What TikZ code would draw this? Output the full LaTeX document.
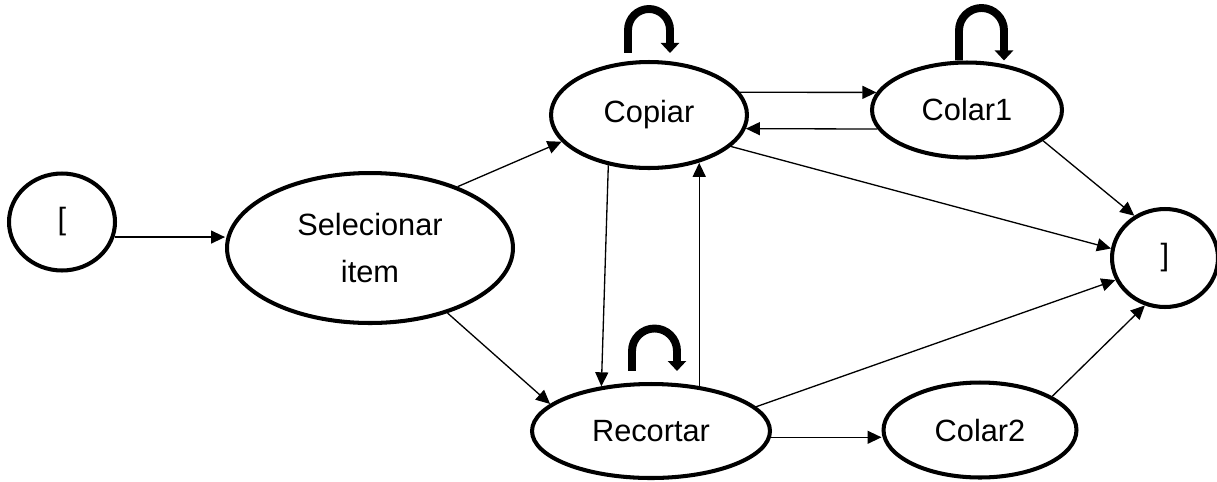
\documentclass[tikz,border=0pt]{standalone}
\usepackage{fontspec}
\setmainfont{Liberation Sans}
\usetikzlibrary{arrows.meta,shapes.geometric}
\begin{document}
\begin{tikzpicture}[x=0.02cm,y=0.02cm,
  state/.style={ellipse,draw,line width=2.3pt,inner sep=0pt,align=center,
    font=\fontsize{17.5}{26.7}\selectfont},
  edge/.style={line width=0.75pt,-{Triangle[length=0.28cm,width=0.26cm]}},
  selfloop/.style={line width=4.5pt,-{Triangle[length=0.2cm,width=0.36cm]}}]
\useasboundingbox (0,0) rectangle (1217,-481);

% states
\node[state,minimum width=2.12cm,minimum height=1.94cm] (open)  at (62,-222)  {[};
\node[state,minimum width=5.72cm,minimum height=3.0cm]  (sel)   at (370,-248) {Selecionar\\item};
\node[state,minimum width=3.92cm,minimum height=2.12cm] (cop)   at (649,-115) {Copiar};
\node[state,minimum width=3.8cm,minimum height=1.9cm]   (col1)  at (967,-110) {Colar1};
\node[state,minimum width=2.12cm,minimum height=1.96cm] (close) at (1165,-258) {]};
\node[state,minimum width=4.76cm,minimum height=1.88cm] (rec)   at (651,-431) {Recortar};
\node[state,minimum width=3.86cm,minimum height=1.9cm]  (col2)  at (980,-430) {Colar2};

% transitions
\draw[edge] (open.-16) -- (open.-16 -| sel.west);
\draw[edge] (sel.35) -- (cop.197);
\draw[edge] (sel.-40) -- (rec.165);
\draw[edge] (cop.231) -- (rec.138);
\draw[edge] (rec.43) -- (rec.43 |- cop.-44);
\draw[edge] (cop.14) -- (col1.169);
\draw[edge] (col1.192) -- (cop.-8);
\draw[edge] (cop.-21) -- (close.170);
\draw[edge] (col1.-22) -- (close.126);
\draw[edge] (rec.13) -- (close.204);
\draw[edge] (rec.-3) -- (rec.-3 -| col2.west);
\draw[edge] (col2.25) -- (close.247);

% self loops
\draw[selfloop] ([shift={(-21,7)}]cop.north) -- ++(0,23)
  arc[start angle=180,end angle=0,radius=21] -- ++(0,-23);
\draw[selfloop] ([shift={(-8,0)}]col1.north) -- ++(0,30)
  arc[start angle=180,end angle=0,radius=22.5] -- ++(0,-30);
\draw[selfloop] ([shift={(-19,11)}]rec.north) -- ++(0,20)
  arc[start angle=180,end angle=0,radius=22.5] -- ++(0,-20);
\end{tikzpicture}
\end{document}
